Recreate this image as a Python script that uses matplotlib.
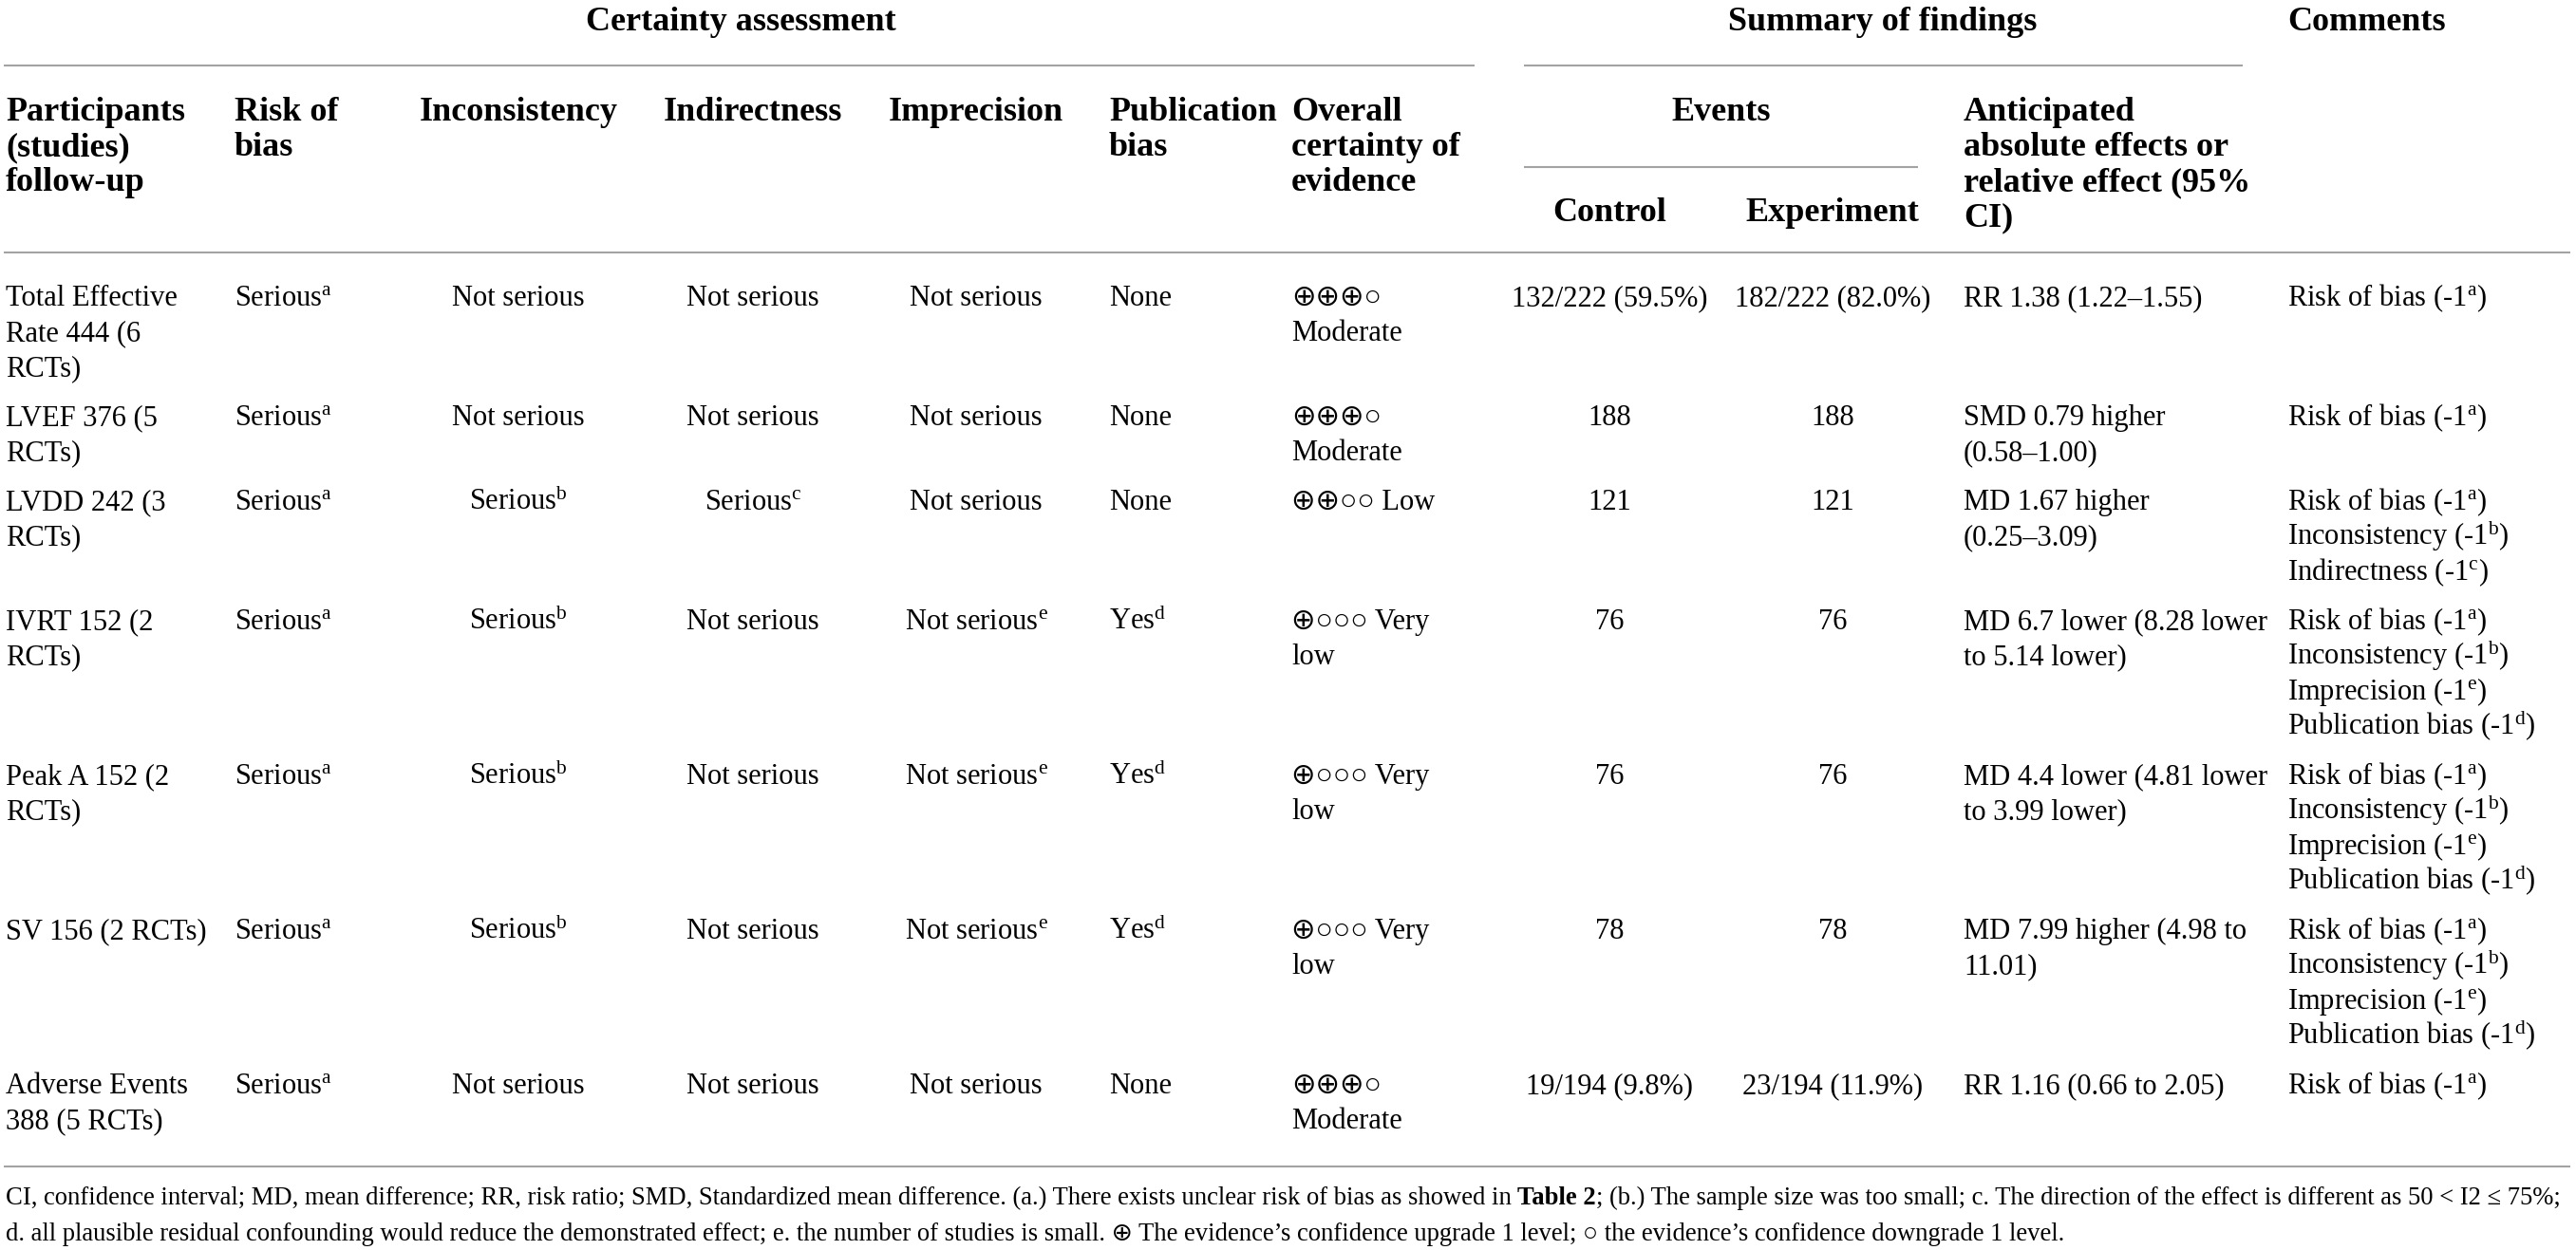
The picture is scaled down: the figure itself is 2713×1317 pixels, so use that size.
import matplotlib
matplotlib.use('Agg')
import matplotlib.pyplot as plt

plt.rcParams['font.family'] = ['Liberation Serif', 'DejaVu Sans']
plt.rcParams['mathtext.fontset'] = 'custom'
plt.rcParams['mathtext.rm'] = 'Liberation Serif'
plt.rcParams['mathtext.it'] = 'Liberation Serif:italic'
plt.rcParams['mathtext.bf'] = 'Liberation Serif:bold'

#table content, one list per column
outcomes=['Total Effective\nRate 444 (6\nRCTs)','LVEF 376 (5\nRCTs)','LVDD 242 (3\nRCTs)','IVRT 152 (2\nRCTs)',
          'Peak A 152 (2\nRCTs)','SV 156 (2 RCTs)','Adverse Events\n388 (5 RCTs)']
risk_of_bias=[r'Serious$^\mathrm{a}$']*7
inconsistency=['Not serious','Not serious',r'Serious$^\mathrm{b}$',r'Serious$^\mathrm{b}$',r'Serious$^\mathrm{b}$',
               r'Serious$^\mathrm{b}$','Not serious']
indirectness=['Not serious','Not serious',r'Serious$^\mathrm{c}$','Not serious','Not serious','Not serious','Not serious']
imprecision=['Not serious','Not serious','Not serious',r'Not serious$^\mathrm{e}$',r'Not serious$^\mathrm{e}$',
             r'Not serious$^\mathrm{e}$','Not serious']
publication_bias=['None','None','None',r'Yes$^\mathrm{d}$',r'Yes$^\mathrm{d}$',r'Yes$^\mathrm{d}$','None']
certainty=['\u2295\u2295\u2295\u25cb\nModerate','\u2295\u2295\u2295\u25cb\nModerate','\u2295\u2295\u25cb\u25cb Low',
           '\u2295\u25cb\u25cb\u25cb Very\nlow','\u2295\u25cb\u25cb\u25cb Very\nlow','\u2295\u25cb\u25cb\u25cb Very\nlow',
           '\u2295\u2295\u2295\u25cb\nModerate']
control=['132/222 (59.5%)','188','121','76','76','78','19/194 (9.8%)']
experiment=['182/222 (82.0%)','188','121','76','76','78','23/194 (11.9%)']
effects=['RR 1.38 (1.22\u20131.55)','SMD 0.79 higher\n(0.58\u20131.00)','MD 1.67 higher\n(0.25\u20133.09)',
         'MD 6.7 lower (8.28 lower\nto 5.14 lower)','MD 4.4 lower (4.81 lower\nto 3.99 lower)',
         'MD 7.99 higher (4.98 to\n11.01)','RR 1.16 (0.66 to 2.05)']
c_rob=r'Risk of bias (-1$^\mathrm{a}$)'
c_inc=r'Inconsistency (-1$^\mathrm{b}$)'
c_ind=r'Indirectness (-1$^\mathrm{c}$)'
c_imp=r'Imprecision (-1$^\mathrm{e}$)'
c_pub=r'Publication bias (-1$^\mathrm{d}$)'
comments=[c_rob,c_rob,'\n'.join([c_rob,c_inc,c_ind]),'\n'.join([c_rob,c_inc,c_imp,c_pub]),
          '\n'.join([c_rob,c_inc,c_imp,c_pub]),'\n'.join([c_rob,c_inc,c_imp,c_pub]),c_rob]

headers=['Participants\n(studies)\nfollow-up','Risk of\nbias','Inconsistency','Indirectness','Imprecision',
         'Publication\nbias','Overall\ncertainty of\nevidence','Control','Experiment',
         'Anticipated\nabsolute effects or\nrelative effect (95%\nCI)','']

foot1a='CI, confidence interval; MD, mean difference; RR, risk ratio; SMD, Standardized mean difference. (a.) There exists unclear risk of bias as showed in '
foot1b='Table 2'
foot1c='; (b.) The sample size was too small; c. The direction of the effect is different as 50 < I2 \u2264 75%;'
foot2='d. all plausible residual confounding would reduce the demonstrated effect; e. the number of studies is small. \u2295 The evidence\u2019s confidence upgrade 1 level; \u25cb the evidence\u2019s confidence downgrade 1 level.'

columns=[outcomes,risk_of_bias,inconsistency,indirectness,imprecision,publication_bias,certainty,control,experiment,effects,comments]
col_x=[6,247,546,793,1028,1168,1360,1695,1930,2068,2409]
col_ha=['left','left','center','center','center','left','left','center','center','left','left']

W,H=2713,1317
fig=plt.figure(figsize=(W/100,H/100),dpi=100)
ax=fig.add_axes([0,0,1,1])
ax.set_xlim(0,W)
ax.set_ylim(H,0)
ax.axis('off')

fs=22
fs_b=26
step=37
rule='#a3a3a3'

def hline(x0,x1,y):
    ax.plot([x0,x1],[y,y],color=rule,lw=1.5,solid_capstyle='butt')

#group headers
ax.text(780,32,'Certainty assessment',ha='center',va='baseline',fontsize=fs_b,fontweight='bold')
ax.text(1983,32,'Summary of findings',ha='center',va='baseline',fontsize=fs_b,fontweight='bold')
ax.text(2409,32,'Comments',ha='left',va='baseline',fontsize=fs_b,fontweight='bold')
hline(4,1553,69)
hline(1605,2362,69)
ax.text(1813,127,'Events',ha='center',va='baseline',fontsize=fs_b,fontweight='bold')
hline(1605,2020,176)

for i in range(len(headers)):
    y0=233 if headers[i] in ('Control','Experiment') else 127
    for k,line in enumerate(headers[i].split('\n')):
        ax.text(col_x[i],y0+k*step,line,ha=col_ha[i],va='baseline',fontsize=fs_b,fontweight='bold')
hline(4,2707,266)

#body rows
y=322
for r in range(len(outcomes)):
    nmax=1
    for c in range(len(columns)):
        lines=columns[c][r].split('\n')
        nmax=max(nmax,len(lines))
        for k,line in enumerate(lines):
            ax.text(col_x[c],y+k*step,line,ha=col_ha[c],va='baseline',fontsize=fs)
    last=y+(nmax-1)*step
    y=last+52
hline(4,2707,last+40)

#footnote, with bold table reference
ffs=19.2
fig.canvas.draw()
rend=fig.canvas.get_renderer()
t=ax.text(6,1269,foot1a,ha='left',va='baseline',fontsize=ffs)
x=6+t.get_window_extent(rend).width
t=ax.text(x,1269,foot1b,ha='left',va='baseline',fontsize=ffs,fontweight='bold')
x=x+t.get_window_extent(rend).width
ax.text(x,1269,foot1c,ha='left',va='baseline',fontsize=ffs)
ax.text(6,1307,foot2,ha='left',va='baseline',fontsize=ffs)

plt.savefig('out.png',dpi=100,facecolor='white')
plt.close()
